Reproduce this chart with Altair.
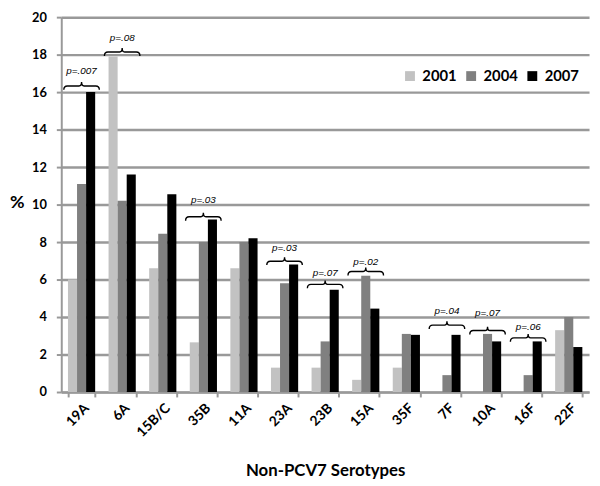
import altair as alt
import pandas as pd

serotypes = ["19A", "6A", "15B/C", "35B", "11A", "23A", "23B", "15A", "35F", "7F", "10A", "16F", "22F"]
years = ["2001", "2004", "2007"]
v2001 = [6.0, 17.9, 6.6, 2.65, 6.6, 1.3, 1.3, 0.65, 1.3, 0.0, 0.0, 0.0, 3.3]
v2004 = [11.1, 10.2, 8.45, 8.0, 8.0, 5.8, 2.7, 6.2, 3.1, 0.9, 3.1, 0.9, 4.0]
v2007 = [16.0, 11.6, 10.55, 9.2, 8.2, 6.8, 5.45, 4.45, 3.05, 3.05, 2.7, 2.7, 2.4]
y_ticks = [0, 2, 4, 6, 8, 10, 12, 14, 16, 18, 20]

br_cat = ["19A", "6A", "35B", "23A", "23B", "15A", "7F", "10A", "16F"]
br_y = [16.33, 18.14, 9.35, 6.98, 5.74, 6.43, 3.57, 3.28, 2.89]
br_ty = [17.1, 18.91, 10.23, 7.66, 6.37, 6.93, 4.3, 4.19, 3.48]
br_lab = ["p=.007", "p=.08", "p=.03", "p=.03", "p=.07", "p=.02", "p=.04", "p=.07", "p=.06"]

rows = []
for i, s in enumerate(serotypes):
    for yr, vals in zip(years, [v2001, v2004, v2007]):
        rows.append({"serotype": s, "year": yr, "value": vals[i]})
df = pd.DataFrame(rows)
br = pd.DataFrame({"serotype": br_cat, "value": br_y})
bl = pd.DataFrame({"serotype": br_cat, "value": br_ty, "label": br_lab})

FONT = "Lato"
GRID = "#999999"
BRACE = "M -1 0.22 Q -1 0 -0.8 0 L -0.14 0 Q 0 0 0 -0.22 Q 0 0 0.14 0 L 0.8 0 Q 1 0 1 0.22"
W, H = 535, 380

xscale = alt.Scale(domain=serotypes, paddingInner=0.33, paddingOuter=0.165)
yscale = alt.Scale(domain=[0, 20], nice=False)

xaxis = alt.Axis(
    title="Non-PCV7 Serotypes", labelAngle=-45, labelFont=FONT, labelFontSize=14,
    labelFontWeight="bold", labelColor="black", labelPadding=4, tickBand="extent",
    tickSize=5, tickColor=GRID, tickWidth=2, domainColor=GRID, domainWidth=2,
    grid=False, labelOverlap=False,
    titleFont=FONT, titleFontSize=17, titleFontWeight="bold", titleColor="black",
    titleY=80, titleBaseline="middle",
)
yaxis = alt.Axis(
    title="%", values=y_ticks, labelFont=FONT, labelFontSize=13,
    labelFontWeight="bold", labelColor="black", labelPadding=10, tickSize=5,
    labelOverlap=False, grid=True, gridColor=GRID, gridWidth=2.5,
    tickColor=GRID, tickWidth=2, domainColor=GRID,
    domainWidth=2, titleFont=FONT, titleFontSize=18, titleFontWeight="bold",
    titleColor="black", titleAngle=0, titleX=-45, titleY=188, titleAlign="center",
    titleBaseline="middle",
)

X = alt.X("serotype:N", scale=xscale, axis=xaxis, sort=serotypes)
Y = alt.Y("value:Q", scale=yscale, axis=yaxis)

bars = alt.Chart(df).mark_bar().encode(
    x=X,
    xOffset=alt.XOffset("year:N", scale=alt.Scale(domain=years, paddingInner=0)),
    y=Y,
    color=alt.Color(
        "year:N",
        scale=alt.Scale(domain=years, range=["#c2c2c2", "#808080", "#000000"]),
        legend=alt.Legend(
            title=None, orient="none", legendX=346, legendY=52, direction="horizontal",
            symbolType="square", symbolSize=100, symbolStrokeWidth=0,
            labelFont=FONT, labelFontSize=15, labelFontWeight="bold", labelColor="black",
            labelOffset=5, columnPadding=7, padding=0,
        ),
    ),
)

braces = alt.Chart(br).mark_point(
    shape=BRACE, size=1296, color="black", strokeWidth=1.4, filled=False, opacity=1
).encode(x=X, y=Y)

labels = alt.Chart(bl).mark_text(
    font="Liberation Sans", fontStyle="italic", fontSize=10, color="black", baseline="middle"
).encode(x=X, y=Y, text="label:N")

chart = alt.layer(bars, braces, labels).properties(
    width=W, height=H, autosize="none",
    padding={"left": 54, "top": 6, "right": 3, "bottom": 92},
).configure_view(strokeWidth=0)

chart.save("out.html", embed_options={"renderer": "svg", "actions": False})
